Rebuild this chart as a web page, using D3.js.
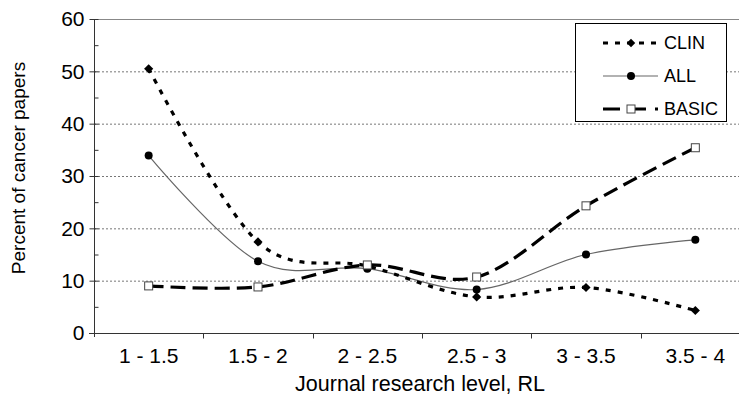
<!DOCTYPE html>
<html><head><meta charset="utf-8">
<script src="https://cdn.jsdelivr.net/npm/d3@7"></script>
<style>body{margin:0;background:#fff}svg{display:block;font-family:"Liberation Sans",Arial,sans-serif}</style>
</head><body><svg id="c" width="739" height="399"></svg>
<script>
const categories = ["1 - 1.5","1.5 - 2","2 - 2.5","2.5 - 3","3 - 3.5","3.5 - 4"];
const clin  = [50.5, 17.4, 12.8, 6.9, 8.7, 4.3];
const all   = [33.9, 13.7, 12.3, 8.3, 15.0, 17.8];
const basic = [9.0, 8.8, 13.0, 10.7, 24.3, 35.4];
const yTicks = [0,10,20,30,40,50,60];
const seriesNames = ["CLIN","ALL","BASIC"];

const svg = d3.select("#c");
const L = 94, R = 750, T = 19, B = 333;
const x = d3.scaleBand().domain(categories).range([L, R]);
const y = d3.scaleLinear().domain([0,60]).range([B, T]);

// gridlines
svg.append("g").selectAll("line").data(yTicks.filter(v=>v>0 && v<60)).join("line")
  .attr("x1", L).attr("x2", 739).attr("y1", d=>y(d)+0.5).attr("y2", d=>y(d)+0.5)
  .attr("stroke", "#777").attr("stroke-width", 1).attr("stroke-dasharray", "2,2");
// top border
svg.append("line").attr("x1", L).attr("x2", 739).attr("y1", y(60)+0.5).attr("y2", y(60)+0.5)
  .attr("stroke", "#888").attr("stroke-width", 1.2);

// y axis
const yAxis = d3.axisLeft(y).tickValues(yTicks).tickSizeInner(4).tickSizeOuter(0).tickPadding(6);
const gy = svg.append("g").attr("transform", `translate(${L+0.5},0)`).call(yAxis);
gy.selectAll(".tick line").attr("x2", 4).attr("x1", -5).attr("stroke", "#333");
gy.select(".domain").attr("stroke", "#333").attr("d", `M0,${T}V${B+4}`);
gy.selectAll("text").attr("font-size", 21).attr("fill", "#000").attr("font-family", "Liberation Sans, Arial, sans-serif");
// minor ticks
gy.append("g").selectAll("line").data([5,15,25,35,45,55]).join("line")
  .attr("x1", 0).attr("x2", 4).attr("y1", d=>y(d)+0.5).attr("y2", d=>y(d)+0.5).attr("stroke", "#333");

// x axis
const xAxis = d3.axisBottom(x).tickSize(0).tickPadding(15);
const gx = svg.append("g").attr("transform", `translate(0,${B+0.5})`).call(xAxis);
gx.select(".domain").attr("stroke", "#333").attr("d", `M${L-5},0H${R}`);
gx.selectAll("text").attr("font-size", 21).attr("fill", "#000").attr("font-family", "Liberation Sans, Arial, sans-serif");
gx.append("g").selectAll("line").data(categories.slice(1)).join("line")
  .attr("x1", d=>Math.round(x(d))+0.5).attr("x2", d=>Math.round(x(d))+0.5).attr("y1", 0).attr("y2", 5).attr("stroke", "#333");

// titles
svg.append("text").attr("x", (L+R)/2 - 2).attr("y", 391).attr("text-anchor", "middle")
  .attr("font-size", 21.5).text("Journal research level, RL");
svg.append("text").attr("transform", `translate(25,${(T+B)/2-8}) rotate(-90)`).attr("text-anchor", "middle")
  .attr("font-size", 19).text("Percent of cancer papers");

const cx = d => x(d) + x.bandwidth()/2;
const line = d3.line().x((d,i)=>cx(categories[i])).y(d=>y(d)).curve(d3.curveCatmullRom.alpha(0));

// series
svg.append("path").datum(all).attr("d", line).attr("fill","none").attr("stroke","#666").attr("stroke-width",1.2);
svg.append("path").datum(clin).attr("d", line).attr("fill","none").attr("stroke","#000").attr("stroke-width",3.2).attr("stroke-dasharray","5,7");
svg.append("path").datum(basic).attr("d", line).attr("fill","none").attr("stroke","#000").attr("stroke-width",3.2).attr("stroke-dasharray","15,7");

svg.append("g").selectAll("path").data(clin).join("path")
  .attr("d", d3.symbol().type(d3.symbolSquare).size(42))
  .attr("transform",(d,i)=>`translate(${cx(categories[i])},${y(d)}) rotate(45)`)
  .attr("fill","#000");
svg.append("g").selectAll("circle").data(all).join("circle")
  .attr("cx",(d,i)=>cx(categories[i])).attr("cy",d=>y(d)).attr("r",4).attr("fill","#000");
svg.append("g").selectAll("rect").data(basic).join("rect")
  .attr("x",(d,i)=>cx(categories[i])-4).attr("y",d=>y(d)-4).attr("width",8).attr("height",8)
  .attr("fill","#fff").attr("stroke","#444").attr("stroke-width",1);

// legend
const lg = svg.append("g");
lg.append("rect").attr("x",575.5).attr("y",23.5).attr("width",151).attr("height",98)
  .attr("fill","#fff").attr("stroke","#000").attr("stroke-width",1);
const rows = [43,76,109];
seriesNames.forEach((n,i)=>{
  const yy = rows[i];
  const l = lg.append("line").attr("x1",603).attr("x2",658).attr("y1",yy).attr("y2",yy).attr("fill","none");
  if(n==="CLIN") l.attr("stroke","#000").attr("stroke-width",3.2).attr("stroke-dasharray","5,7");
  if(n==="ALL") l.attr("stroke","#666").attr("stroke-width",1.2);
  if(n==="BASIC") l.attr("stroke","#000").attr("stroke-width",3.2).attr("stroke-dasharray","17,9");
  if(n==="CLIN") lg.append("path").attr("d", d3.symbol().type(d3.symbolSquare).size(36)).attr("transform",`translate(631,${yy}) rotate(45)`).attr("fill","#000");
  if(n==="ALL") lg.append("circle").attr("cx",631).attr("cy",yy).attr("r",4).attr("fill","#000");
  if(n==="BASIC") lg.append("rect").attr("x",627).attr("y",yy-4).attr("width",8).attr("height",8).attr("fill","#fff").attr("stroke","#444");
  lg.append("text").attr("x",664).attr("y",yy).attr("dy","0.36em").attr("font-size",18).text(n);
});
</script></body></html>
